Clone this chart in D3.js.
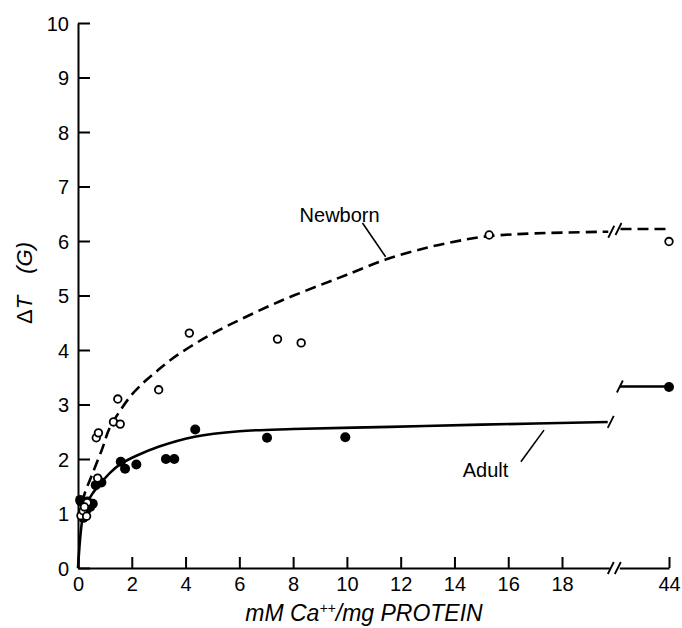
<!DOCTYPE html>
<html>
<head>
<meta charset="utf-8">
<script src="https://cdn.jsdelivr.net/npm/d3@7"></script>
<style>
  html, body { margin: 0; padding: 0; background: #fff; }
  svg { display: block; }
  text { font-family: "Liberation Sans", Arial, sans-serif; fill: #000; }
</style>
</head>
<body>
<svg id="chart" width="682" height="628"></svg>
<script>
// ---------- data ----------
const xTickValues = [0, 2, 4, 6, 8, 10, 12, 14, 16, 18, 44];
const yTickValues = [0, 1, 2, 3, 4, 5, 6, 7, 8, 9, 10];

// Adult (filled circles)
const adultPoints = [
  [0.08, 1.25], [0.10, 1.22], [0.20, 0.92], [0.30, 1.05], [0.35, 1.22],
  [0.45, 1.12], [0.55, 1.18], [0.66, 1.52], [0.87, 1.57], [1.59, 1.95],
  [1.75, 1.82], [2.17, 1.90], [3.27, 2.00], [3.58, 2.00], [4.36, 2.54],
  [7.03, 2.39], [9.94, 2.40], [44, 3.32]
];
// Newborn (open circles)
const newbornPoints = [
  [0.11, 0.96], [0.19, 1.05], [0.32, 0.95], [0.34, 1.20], [0.24, 1.12],
  [0.73, 1.65], [0.68, 2.39], [0.76, 2.48], [1.32, 2.68], [1.57, 2.64],
  [1.48, 3.10], [3.00, 3.27], [4.14, 4.31], [7.42, 4.20], [8.30, 4.13],
  [15.29, 6.11], [44, 5.99]
];
// fitted curves drawn in the figure
const adultCurve = [
  [0, 0], [0.1, 0.65], [0.2, 1.0], [0.35, 1.2], [0.53, 1.36], [0.87, 1.57],
  [1.2, 1.75], [1.59, 1.91], [2.17, 2.06], [3.02, 2.23], [4.34, 2.41],
  [6, 2.51], [8, 2.55], [11.6, 2.59], [15, 2.63], [19.7, 2.68]
];
const adultTail = [[21.0, 3.33], [44, 3.33]];
const newbornCurve = [
  [0.08, 0.9], [0.22, 1.32], [0.53, 1.72], [0.91, 2.2], [1.16, 2.55], [1.53, 2.86],
  [2, 3.18], [2.5, 3.43], [3, 3.64], [3.5, 3.84], [4.14, 4.05], [5, 4.3], [6, 4.55],
  [7.49, 4.89], [9, 5.19], [10, 5.38], [11.44, 5.66], [13, 5.88], [14.45, 6.03],
  [15.3, 6.09], [17, 6.14], [19.72, 6.17]
];
const newbornTail = [[21.3, 6.22], [44, 6.22]];

// labels
const xTitle = ["mM Ca", "++", "/mg PROTEIN"];
const labelNewborn = { text: "Newborn", at: [8.24, 6.35], lead: [[10.58, 6.33], [11.44, 5.71]] };
const labelAdult = { text: "Adult", at: [14.31, 1.67], lead: [[16.47, 1.95], [17.33, 2.53]] };

// ---------- scales ----------
const svg = d3.select("#chart");
const x = d3.scaleLinear().domain([0, 20, 20.6, 44]).range([78, 615.8, 619, 669]);
const y = d3.scaleLinear().domain([0, 10]).range([568, 23]);

// ---------- axes ----------
const yAxis = d3.axisLeft(y).tickValues(yTickValues).tickSizeInner(-12).tickSizeOuter(0).tickPadding(9);
const gy = svg.append("g").attr("transform", `translate(${x(0)},0)`).call(yAxis);
const xAxis = d3.axisBottom(x).tickValues(xTickValues).tickSizeInner(-11).tickSizeOuter(0).tickPadding(9)
  .tickFormat(d3.format("d"));
const gx = svg.append("g").attr("transform", `translate(0,${y(0)})`).call(xAxis);

[gx, gy].forEach(g => {
  g.attr("font-size", 20).attr("font-family", '"Liberation Sans", Arial, sans-serif');
  g.select(".domain").attr("stroke", "#000").attr("stroke-width", 2);
  g.selectAll(".tick line").attr("stroke", "#000").attr("stroke-width", 2);
  g.selectAll(".tick text").style("font-size", "20px").attr("fill", "#000");
});
gy.selectAll(".tick text").attr("dy", "0.36em");

// break marks
function slash(px, py) {
  svg.append("line").attr("x1", px - 3).attr("y1", py + 6).attr("x2", px + 3).attr("y2", py - 6)
    .attr("stroke", "#000").attr("stroke-width", 1.8);
}
// axis break
svg.append("rect").attr("x", x(20) - 6).attr("y", y(0) - 2).attr("width", 10).attr("height", 4).attr("fill", "#fff");
slash(x(20) - 5, y(0));
slash(x(20) + 2, y(0));

// ---------- curves ----------
const line = d3.line().x(d => x(d[0])).y(d => y(d[1])).curve(d3.curveCatmullRom.alpha(0.5));

svg.append("path").datum(adultCurve).attr("d", line)
  .attr("fill", "none").attr("stroke", "#000").attr("stroke-width", 2.6);
svg.append("path").datum(adultTail).attr("d", line)
  .attr("fill", "none").attr("stroke", "#000").attr("stroke-width", 2.6);
slash(x(adultCurve[adultCurve.length - 1][0]) + 3, y(adultCurve[adultCurve.length - 1][1]));
slash(x(adultTail[0][0]), y(adultTail[0][1]));

svg.append("path").datum(newbornCurve).attr("d", line)
  .attr("fill", "none").attr("stroke", "#000").attr("stroke-width", 2.6)
  .attr("stroke-dasharray", "11,6");
svg.append("path").datum(newbornTail).attr("d", line)
  .attr("fill", "none").attr("stroke", "#000").attr("stroke-width", 2.6)
  .attr("stroke-dasharray", "11,6");
slash(x(newbornCurve[newbornCurve.length - 1][0]) + 3, y(newbornCurve[newbornCurve.length - 1][1]));
slash(x(newbornTail[0][0]) - 2, y(newbornTail[0][1]));

// ---------- points ----------
svg.append("g").selectAll("circle").data(adultPoints).join("circle")
  .attr("cx", d => x(d[0])).attr("cy", d => y(d[1])).attr("r", 5).attr("fill", "#000");
svg.append("g").selectAll("circle").data(newbornPoints).join("circle")
  .attr("cx", d => x(d[0])).attr("cy", d => y(d[1])).attr("r", 3.8)
  .attr("fill", "#fff").attr("stroke", "#000").attr("stroke-width", 1.8);

// ---------- annotations ----------
[labelNewborn, labelAdult].forEach(l => {
  svg.append("text").attr("x", x(l.at[0])).attr("y", y(l.at[1]))
    .style("font-size", "20px").text(l.text);
  svg.append("line")
    .attr("x1", x(l.lead[0][0])).attr("y1", y(l.lead[0][1]))
    .attr("x2", x(l.lead[1][0])).attr("y2", y(l.lead[1][1]))
    .attr("stroke", "#000").attr("stroke-width", 1.6);
});

// ---------- axis titles ----------
const xt = svg.append("text").attr("x", 364).attr("y", 621).attr("text-anchor", "middle")
  .style("font-size", "23px").style("font-style", "italic");
xt.append("tspan").text(xTitle[0]);
xt.append("tspan").attr("dy", -8).style("font-size", "14px").text(xTitle[1]);
xt.append("tspan").attr("dy", 8).text(xTitle[2]);

const yt = svg.append("text").attr("transform", "translate(32,283) rotate(-90)")
  .attr("text-anchor", "middle").style("font-size", "22px");
yt.append("tspan").text("Δ");
yt.append("tspan").style("font-style", "italic").text("T\u2003(G)");
</script>
</body>
</html>
